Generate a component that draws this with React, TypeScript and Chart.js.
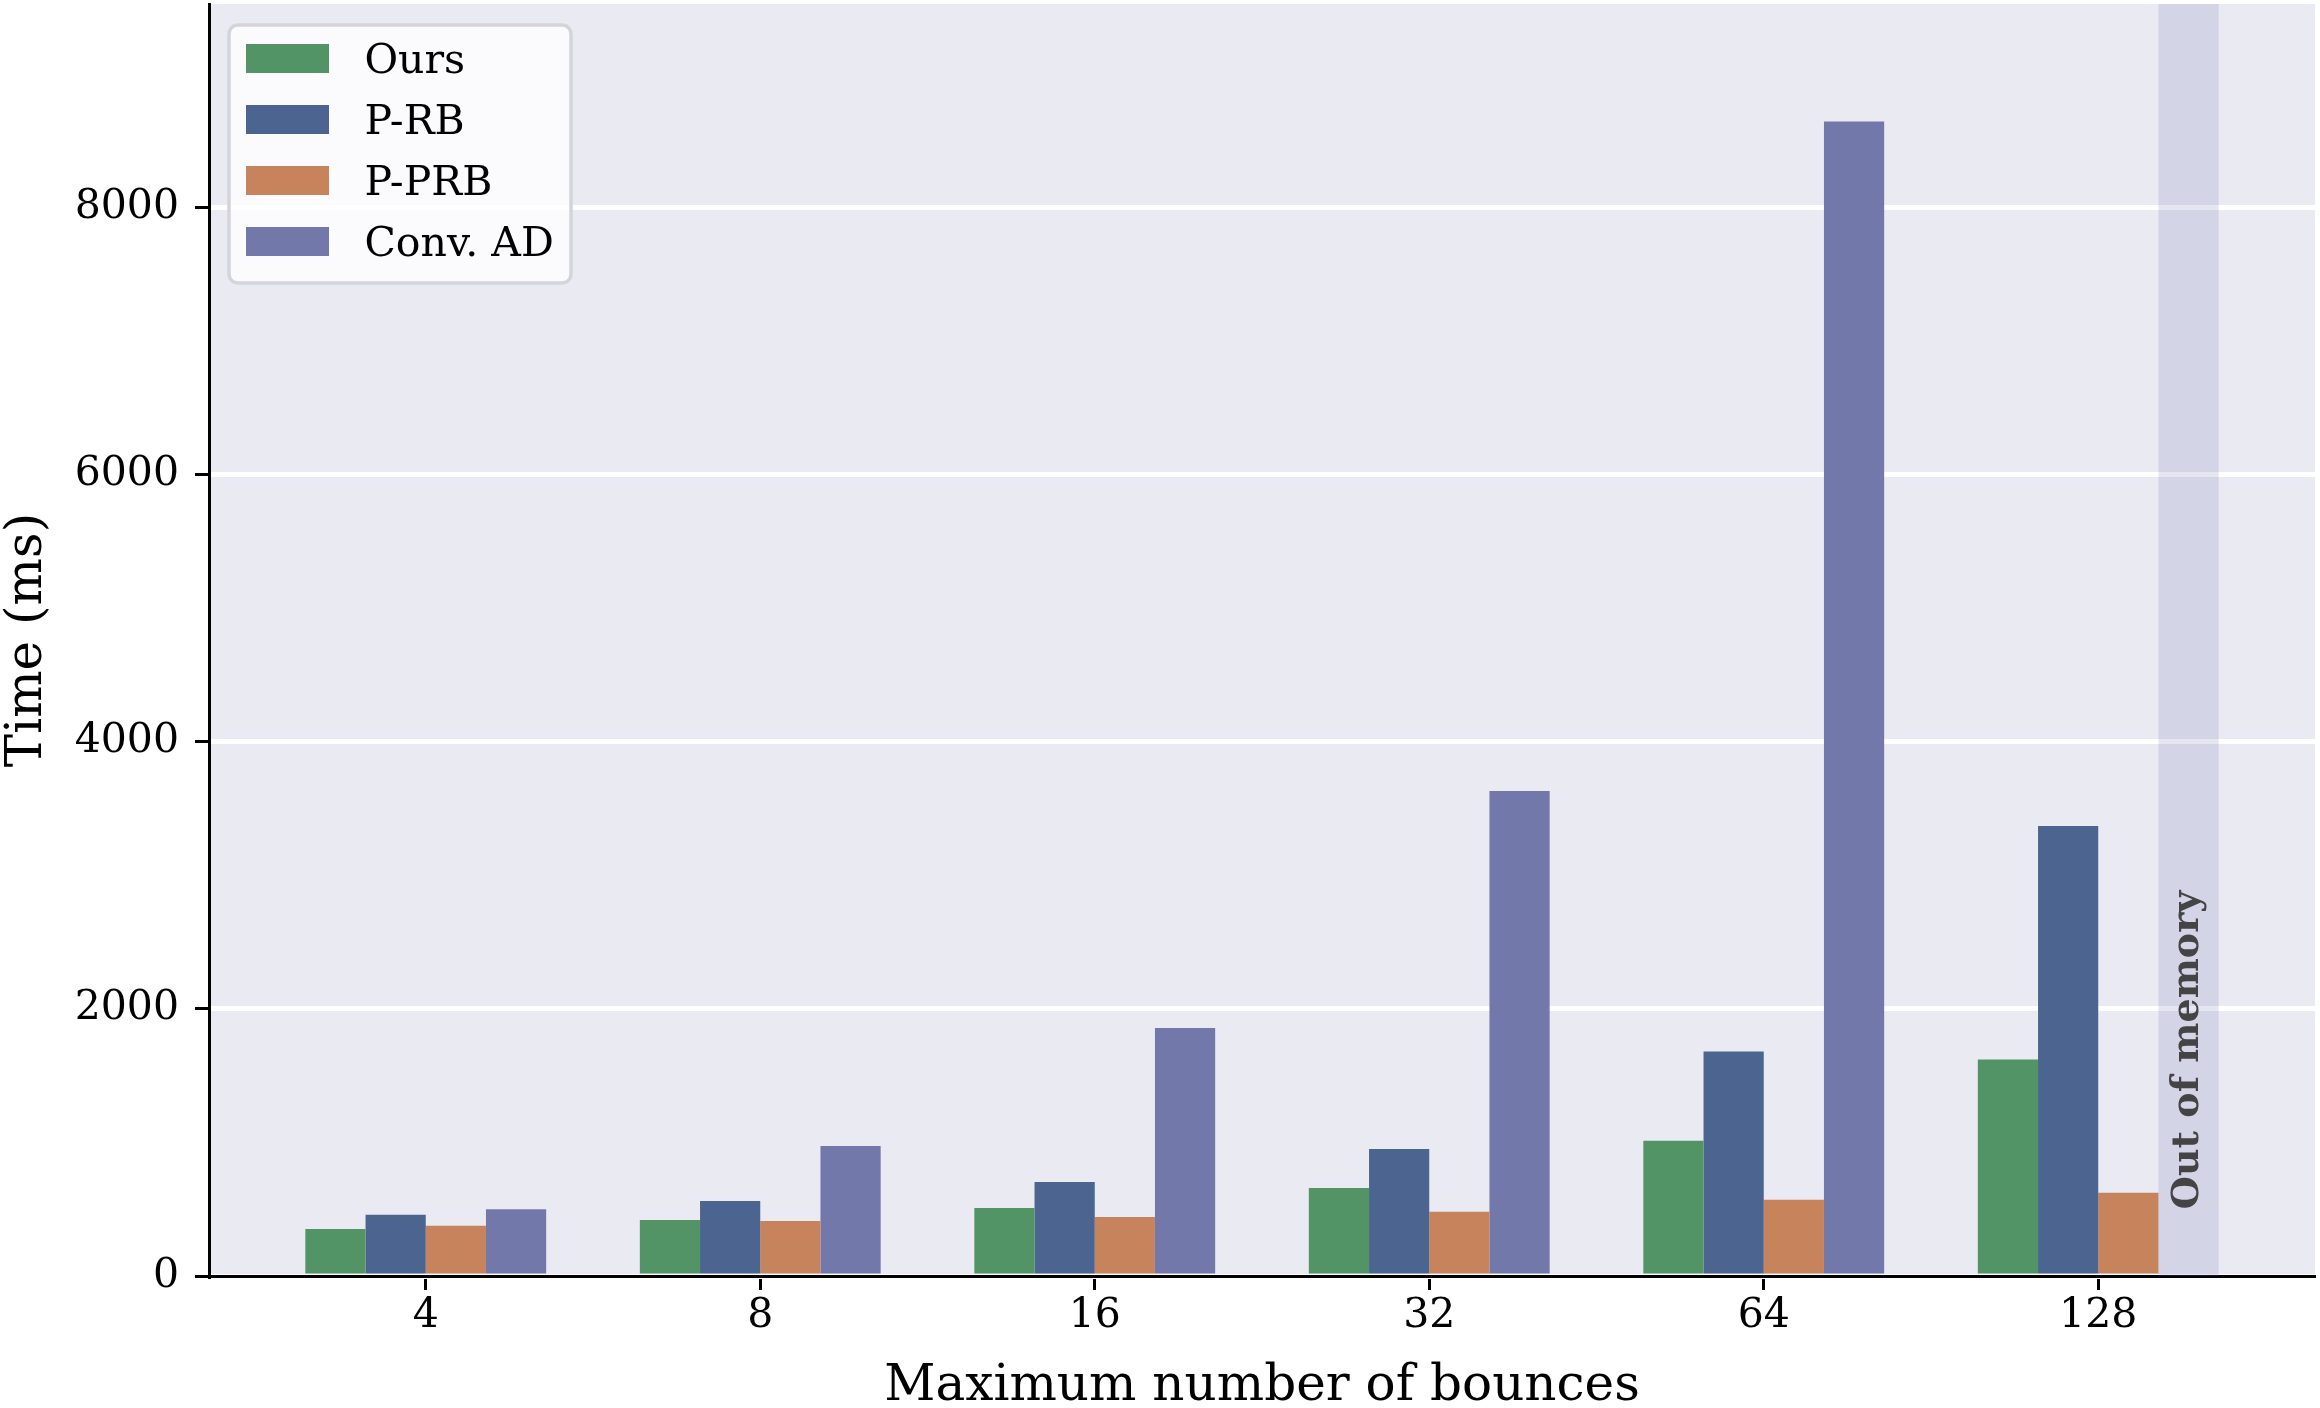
import { useEffect, useRef } from "react";
import { Chart, registerables } from "chart.js";

Chart.register(...registerables);

// Render time per maximum bounce count (ms)
const bounces = ["4", "8", "16", "32", "64", "128"];
const seriesNames = ["Ours", "P-RB", "P-PRB", "Conv. AD"];
const oursMs = [352, 419, 509, 659, 1013, 1620];
const pRbMs = [458, 561, 704, 950, 1680, 3368];
const pPrbMs = [376, 412, 442, 480, 570, 624];
const convAdMs: (number | null)[] = [500, 973, 1856, 3630, 8640, null];
const seriesColors = ["#529466", "#4b6590", "#c7835c", "#7279aa"];
const yTicks = [0, 2000, 4000, 6000, 8000];
const yMax = 9520;
const xPad = 0.648;
const oomLabel = "Out of memory";
const oomLabelAt = 500;
const oomIndex = 5;

const SERIF = "'DejaVu Serif', 'Liberation Serif', serif";

const backdrop = {
  id: "backdrop",
  beforeDraw(chart: any) {
    const { ctx, chartArea: a } = chart;
    ctx.save();
    ctx.fillStyle = "#eaeaf2";
    ctx.fillRect(a.left, a.top, a.right - a.left, a.bottom - a.top);
    ctx.restore();
  },
};

// Shaded slot where Conv. AD ran out of memory
const oomBand = {
  id: "oomBand",
  beforeDatasetsDraw(chart: any) {
    const { ctx, chartArea: a, scales } = chart;
    const el: any = chart.getDatasetMeta(3).data[oomIndex];
    let cx: number, w: number;
    if (el && isFinite(el.x) && isFinite(el.width)) {
      cx = el.x;
      w = el.width;
    } else {
      const prev: any = chart.getDatasetMeta(2).data[oomIndex];
      w = prev.width;
      cx = prev.x + w;
    }
    ctx.save();
    ctx.fillStyle = "rgba(110,118,180,0.18)";
    ctx.fillRect(cx - w / 2, a.top, w, a.bottom - a.top);
    const y0 = scales.y.getPixelForValue(oomLabelAt);
    ctx.translate(cx, y0);
    ctx.rotate(-Math.PI / 2);
    ctx.fillStyle = "#444444";
    ctx.font = `bold 38px ${SERIF}`;
    ctx.textAlign = "left";
    ctx.textBaseline = "middle";
    ctx.fillText(oomLabel, 0, 0);
    ctx.restore();
  },
};

// Framed legend in the upper-left corner of the plot
const boxLegend = {
  id: "boxLegend",
  afterDatasetsDraw(chart: any) {
    const { ctx, chartArea: a } = chart;
    const x0 = a.left + 20;
    const y0 = a.top + 21;
    const bw = 342;
    const bh = 258;
    ctx.save();
    ctx.beginPath();
    ctx.roundRect(x0, y0, bw, bh, 9);
    ctx.fillStyle = "rgba(255,255,255,0.8)";
    ctx.fill();
    ctx.lineWidth = 3.5;
    ctx.strokeStyle = "#d4d5da";
    ctx.stroke();
    ctx.font = `41px ${SERIF}`;
    ctx.textAlign = "left";
    ctx.textBaseline = "middle";
    chart.data.datasets.forEach((ds: any, i: number) => {
      const top = y0 + 19 + i * 61;
      ctx.fillStyle = ds.backgroundColor;
      ctx.fillRect(x0 + 17, top, 83, 29);
      ctx.fillStyle = "#000";
      ctx.fillText(ds.label, x0 + 135.5, top + 18);
    });
    ctx.restore();
  },
};

export default function App() {
  const ref = useRef<HTMLCanvasElement>(null);

  useEffect(() => {
    const series = [oursMs, pRbMs, pPrbMs, convAdMs];
    const chart = new Chart(ref.current as HTMLCanvasElement, {
      type: "bar",
      data: {
        datasets: series.map((vals, s) => ({
          label: seriesNames[s],
          data: vals.map((y, i) => ({ x: i, y })),
          backgroundColor: seriesColors[s],
          borderWidth: 0,
          categoryPercentage: 0.72,
          barPercentage: 1,
        })),
      } as any,
      options: {
        animation: false,
        responsive: false,
        devicePixelRatio: 1,
        layout: { padding: { top: 4, right: 5, left: 0, bottom: 0 } },
        plugins: {
          legend: { display: false },
          tooltip: { enabled: false },
        },
        scales: {
          x: {
            type: "linear",
            min: -xPad,
            max: bounces.length - 1 + xPad,
            offset: false,
            z: 1,
            afterBuildTicks: (s: any) => {
              s.ticks = bounces.map((_, i) => ({ value: i }));
            },
            afterFit: (s: any) => {
              s.height = 132;
              s.paddingLeft = 0;
              s.paddingRight = 0;
            },
            ticks: {
              callback: (_v: any, i: number) => bounces[i],
              font: { family: SERIF, size: 41 },
              color: "#000",
              padding: 2,
              maxRotation: 0,
              autoSkip: false,
            },
            grid: {
              offset: false,
              drawOnChartArea: false,
              drawTicks: true,
              tickLength: 14,
              tickWidth: 3,
              tickColor: "#000",
            },
            border: { display: true, color: "#000", width: 3 },
            title: {
              display: true,
              text: "Maximum number of bounces",
              font: { family: SERIF, size: 50, lineHeight: 0.84 },
              color: "#000",
              padding: 0,
            },
          },
          y: {
            type: "linear",
            min: 0,
            max: yMax,
            afterBuildTicks: (s: any) => {
              s.ticks = yTicks.map((value) => ({ value }));
            },
            afterFit: (s: any) => {
              s.width = 209;
              s.paddingTop = 0;
              s.paddingBottom = 0;
            },
            ticks: {
              callback: (v: any) => String(v),
              font: { family: SERIF, size: 41 },
              color: "#000",
              padding: 16,
            },
            grid: {
              color: "#ffffff",
              lineWidth: 5,
              drawTicks: true,
              tickLength: 14,
              tickWidth: 3,
              tickColor: "#000",
            },
            border: { display: true, color: "#000", width: 3 },
            title: {
              display: true,
              text: "Time (ms)",
              font: { family: SERIF, size: 50, lineHeight: 1.12 },
              color: "#000",
              padding: 0,
            },
          },
        },
      } as any,
      plugins: [backdrop, oomBand, boxLegend],
    });
    return () => chart.destroy();
  }, []);

  return (
    <div
      style={{
        position: "fixed",
        left: 0,
        top: 0,
        width: 2320,
        height: 1408,
        background: "#ffffff",
      }}
    >
      <canvas
        ref={ref}
        width={2320}
        height={1408}
        style={{ display: "block", width: 2320, height: 1408 }}
      />
    </div>
  );
}
